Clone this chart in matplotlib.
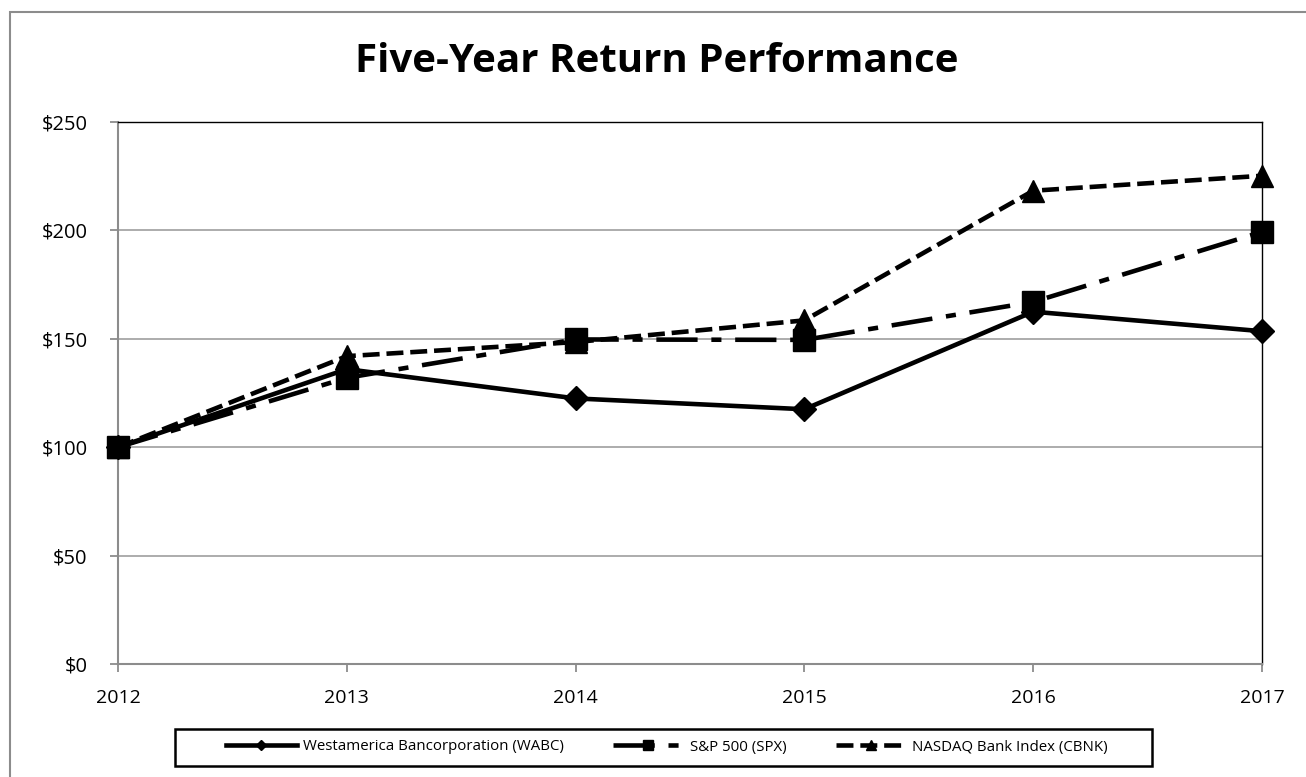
import matplotlib.pyplot as plt
from matplotlib.patches import Rectangle

years = ["2012", "2013", "2014", "2015", "2016", "2017"]
wabc = [100, 136, 122.5, 117.5, 162.5, 153.5]
spx = [100, 132, 149.7, 149.5, 167, 199.3]
cbnk = [100, 142, 148.5, 158.5, 218.3, 225.2]
y_ticks = [0, 50, 100, 150, 200, 250]
y_labels = ["$0", "$50", "$100", "$150", "$200", "$250"]

plt.rcParams['font.family'] = ['Open Sans', 'DejaVu Sans']

W, H = 1306, 777
fig = plt.figure(figsize=(W / 100, H / 100), dpi=100)
ax = fig.add_axes([118 / W, 113 / H, 1144 / W, 542 / H])

# outer chart border (only top and left show in the crop)
fig.patches.append(Rectangle((10 / W, -0.1), 1.2, 0.1 + 765 / H,
                             transform=fig.transFigure, fill=False,
                             edgecolor='#8c8c8c', linewidth=1.5))

x = list(range(len(years)))
ax.plot(x, wabc, color='black', lw=3.3, ls='-', marker='D', ms=12,
        label='Westamerica Bancorporation (WABC)', zorder=3, clip_on=False)
ax.plot(x, spx, color='black', lw=3.3, ls=(0, (9, 3, 2.2, 3)), marker='s',
        ms=16, label='S&P 500 (SPX)', zorder=4, clip_on=False)
ax.plot(x, cbnk, color='black', lw=3.3, ls=(0, (3.7, 1.5)), marker='^', ms=16,
        label='NASDAQ Bank Index (CBNK)', zorder=5, clip_on=False)

ax.set_xlim(0, 5)
ax.set_ylim(0, 250)
ax.set_xticks(x)
ax.set_xticklabels(years, fontsize=14)
ax.set_yticks(y_ticks)
ax.set_yticklabels(y_labels, fontsize=14.5)
ax.grid(axis='y', color='#a6a6a6', lw=1.3)
ax.set_axisbelow(True)
ax.tick_params(axis='both', direction='out', length=6, width=1.3,
               color='#8c8c8c')
ax.tick_params(axis='y', pad=16)
ax.tick_params(axis='x', pad=12)
for side in ['left', 'bottom']:
    ax.spines[side].set_color('#8c8c8c')
    ax.spines[side].set_linewidth(1.5)
for side in ['top', 'right']:
    ax.spines[side].set_color('black')
    ax.spines[side].set_linewidth(1.0)

fig.text(657 / W, 1 - 62 / H, 'Five-Year Return Performance', ha='center',
         va='center', fontsize=29, fontweight='bold')

# legend without its own frame, box drawn separately
leg = fig.legend(loc='center', bbox_to_anchor=(667 / W, 1 - 747 / H),
                 ncol=3, fontsize=10.8, frameon=False, handlelength=4.7,
                 handletextpad=0.4, markerscale=0.45, columnspacing=3.3)
fig.patches.append(Rectangle((175 / W, 1 - 766 / H), 977 / W, 37 / H,
                             transform=fig.transFigure, fill=False,
                             edgecolor='black', linewidth=1.8))

fig.savefig('out.png', dpi=100)
